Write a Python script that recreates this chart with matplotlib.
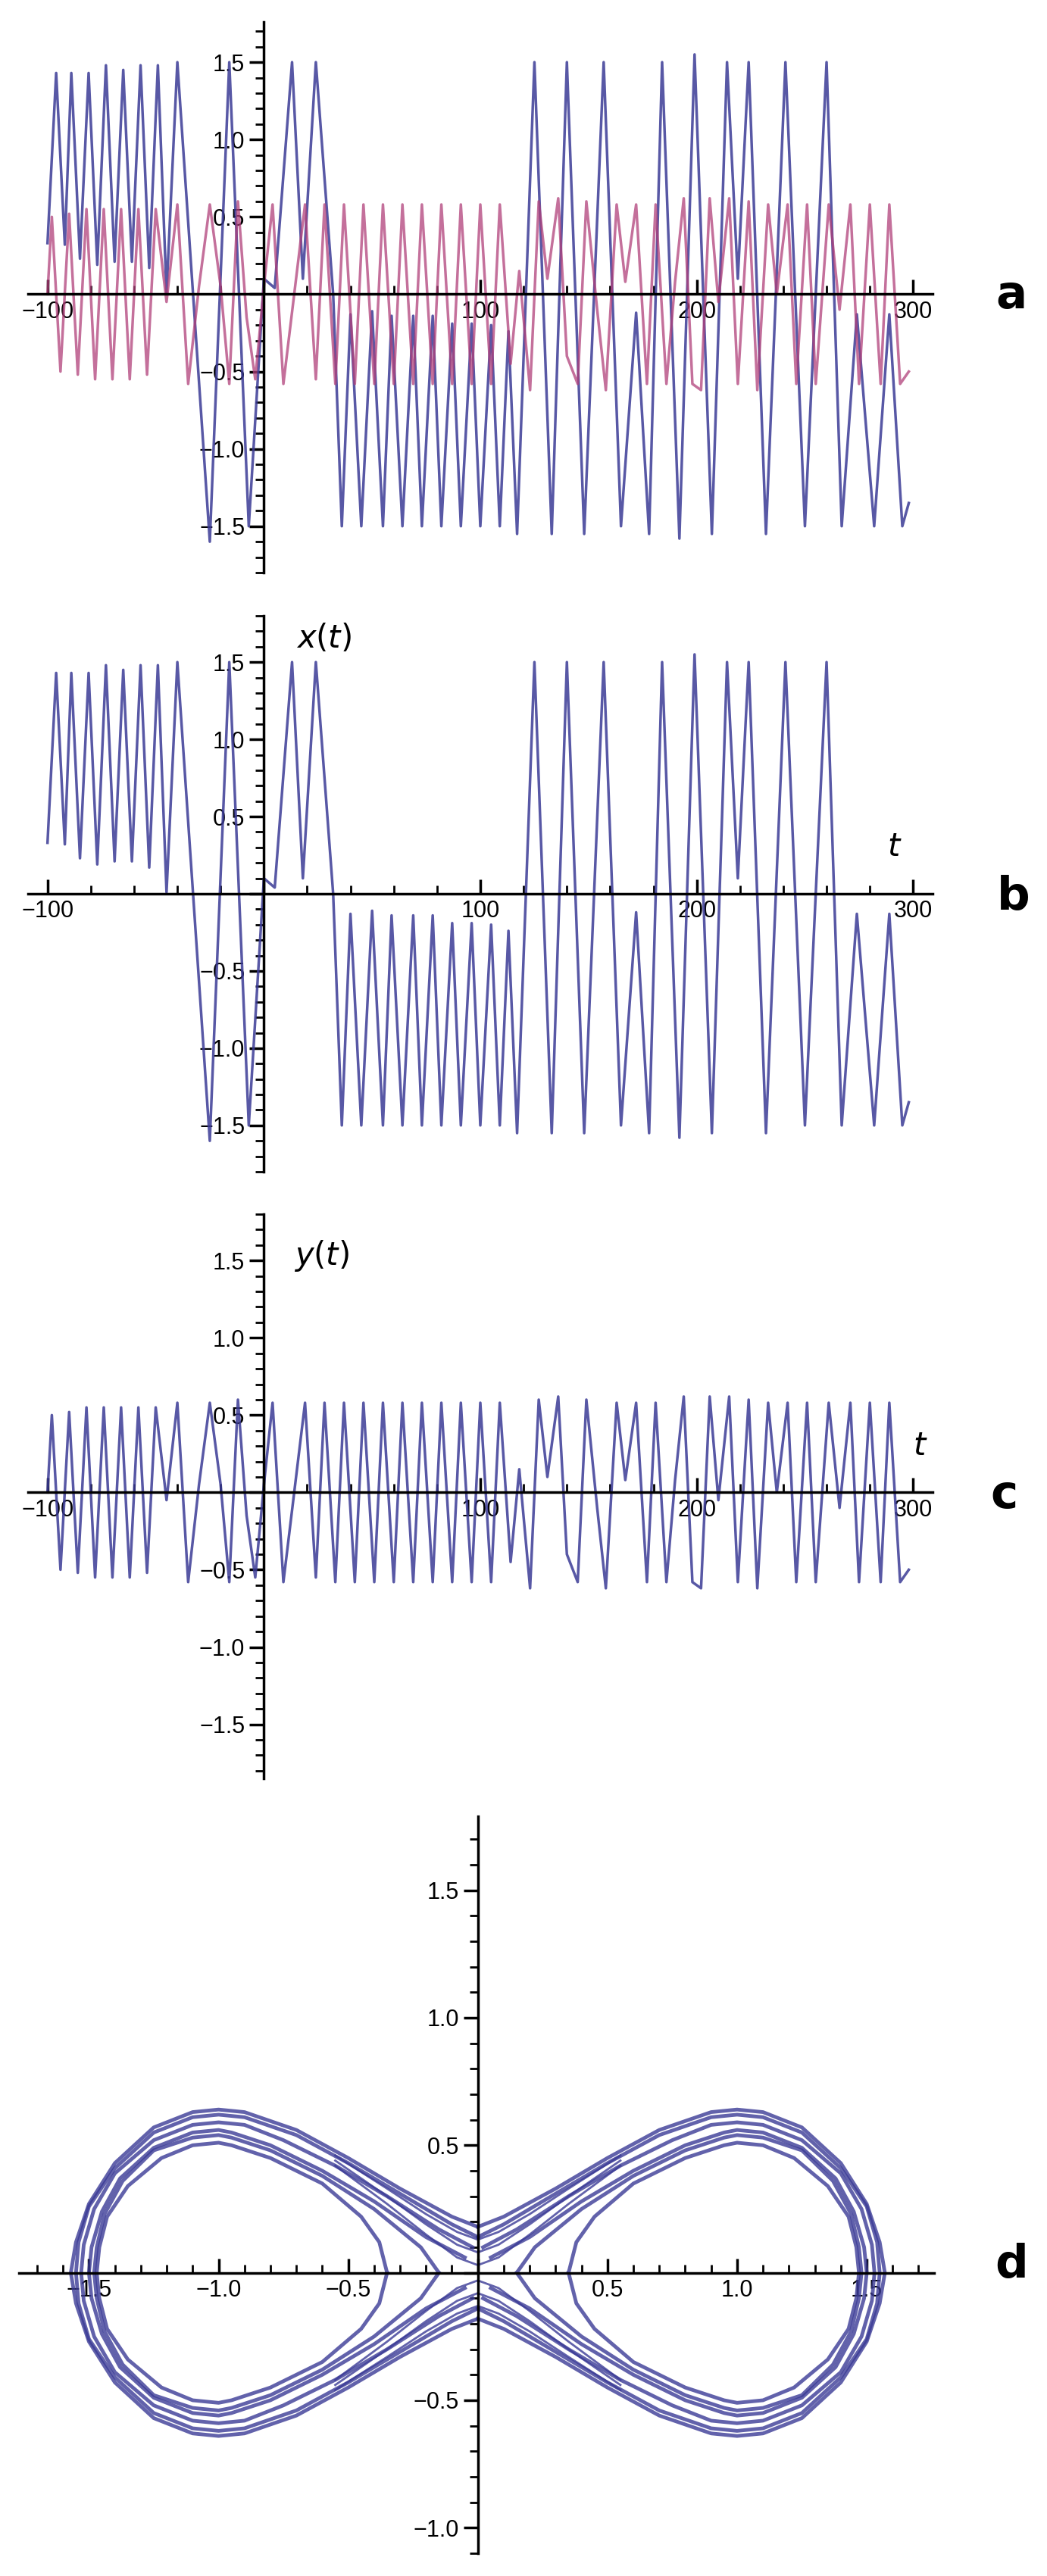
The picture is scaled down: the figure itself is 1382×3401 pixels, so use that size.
import matplotlib
matplotlib.use("Agg")
import matplotlib.pyplot as plt
import numpy as np
from matplotlib.ticker import MultipleLocator, FuncFormatter

# x(t) extrema (t, value)
x_t = [-100, -96, -92, -89, -85, -81, -77, -73, -69, -65, -61, -57, -53, -49, -45, -40,
       -25, -16, -7, 0, 5, 13, 18, 24, 32, 36, 40, 45, 50, 55, 59, 64, 69, 73, 78,
       82, 87, 91, 96, 100, 105, 109, 113, 117, 125, 133, 140, 148, 157, 165, 172, 178, 184,
       192, 199, 207, 214, 219, 224, 232, 241, 250, 260, 267, 274, 282, 289, 295, 298]
x_v = [0.33, 1.43, 0.32, 1.43, 0.23, 1.43, 0.19, 1.48, 0.21, 1.45, 0.21, 1.48, 0.17, 1.48,
       0.01, 1.50, -1.60, 1.50, -1.50, 0.10, 0.04, 1.50, 0.10, 1.50, 0.0, -1.50,
       -0.13, -1.50, -0.11, -1.50, -0.14, -1.50, -0.14, -1.50, -0.14, -1.50, -0.19,
       -1.50, -0.19, -1.50, -0.20, -1.50, -0.24, -1.55, 1.50, -1.55, 1.50, -1.55, 1.50, -1.50,
       -0.12, -1.55, 1.50, -1.58, 1.55, -1.55, 1.50, 0.10, 1.50, -1.55, 1.50, -1.50,
       1.50, -1.50, -0.13, -1.50, -0.13, -1.50, -1.35]

# y(t) extrema (t, value)
y_t = [-100, -98, -94, -90, -86, -82, -78, -74, -70, -66, -62, -58, -54, -50, -45, -40,
       -35, -30, -25, -20, -16, -12, -8, -4, 0, 4, 9, 14, 19, 24, 28, 33, 37, 42, 46, 51,
       55, 60, 64, 69, 73, 78, 82, 87, 91, 96, 100, 105, 109, 114, 118, 123, 127, 131,
       136, 140, 145, 149, 154, 158, 163, 167, 172, 177, 181, 186, 190, 194, 198, 202,
       206, 210, 215, 219, 224, 228, 233, 237, 242, 246, 251, 255, 261, 266, 271, 275,
       280, 285, 289, 294, 298]
y_v = [0.0, 0.50, -0.50, 0.52, -0.52, 0.55, -0.55, 0.55, -0.55, 0.55, -0.55, 0.55,
       -0.52, 0.55, -0.05, 0.58, -0.58, 0.05, 0.58, 0.05, -0.58, 0.60, -0.15, -0.55,
       0.05, 0.58, -0.58, 0.0, 0.58, -0.55, 0.58, -0.58, 0.58, -0.58, 0.58, -0.58, 0.58,
       -0.58, 0.58, -0.58, 0.58, -0.58, 0.58, -0.58, 0.58, -0.58, 0.58, -0.58, 0.58,
       -0.45, 0.15, -0.62, 0.60, 0.10, 0.62, -0.40, -0.58, 0.60, -0.10, -0.62, 0.58,
       0.08, 0.58, -0.58, 0.58, -0.58, 0.08, 0.62, -0.58, -0.62, 0.62, -0.05, 0.62,
       -0.58, 0.60, -0.62, 0.58, 0.0, 0.58, -0.58, 0.58, -0.58, 0.58, -0.10, 0.58,
       -0.58, 0.58, -0.58, 0.58, -0.58, -0.50]

# phase portrait d: upper halves of right-lobe orbits (x, y); lower half / left lobe are mirrored
ring_x = [
    [0.00, 0.10, 0.30, 0.50, 0.70, 0.90, 1.00, 1.10, 1.25, 1.40, 1.50, 1.55, 1.57],
    [0.00, 0.10, 0.30, 0.50, 0.70, 0.90, 1.00, 1.10, 1.25, 1.40, 1.50, 1.54, 1.55],
    [0.02, 0.15, 0.35, 0.55, 0.75, 0.90, 1.00, 1.10, 1.25, 1.40, 1.48, 1.52, 1.53],
    [0.05, 0.20, 0.40, 0.60, 0.80, 0.95, 1.00, 1.10, 1.25, 1.38, 1.45, 1.49, 1.50],
    [0.15, 0.22, 0.40, 0.60, 0.80, 0.95, 1.00, 1.10, 1.25, 1.37, 1.44, 1.47, 1.48],
    [0.35, 0.38, 0.45, 0.60, 0.80, 0.95, 1.00, 1.10, 1.22, 1.35, 1.43, 1.46, 1.47],
]
ring_y = [
    [0.18, 0.22, 0.33, 0.45, 0.56, 0.63, 0.64, 0.63, 0.57, 0.43, 0.27, 0.12, 0.00],
    [0.14, 0.19, 0.31, 0.43, 0.54, 0.61, 0.62, 0.61, 0.55, 0.41, 0.26, 0.12, 0.00],
    [0.10, 0.17, 0.30, 0.42, 0.52, 0.58, 0.59, 0.58, 0.52, 0.39, 0.25, 0.11, 0.00],
    [0.06, 0.14, 0.28, 0.40, 0.50, 0.55, 0.56, 0.55, 0.49, 0.37, 0.24, 0.10, 0.00],
    [0.00, 0.10, 0.25, 0.38, 0.48, 0.53, 0.54, 0.53, 0.48, 0.36, 0.23, 0.10, 0.00],
    [0.00, 0.12, 0.22, 0.35, 0.45, 0.50, 0.51, 0.50, 0.45, 0.34, 0.22, 0.10, 0.00],
]
# near-saddle passages through the origin
pass_x = [-0.55, -0.35, -0.20, -0.08, 0.00, 0.08, 0.20, 0.35, 0.55]
pass_y = [[0.42, 0.27, 0.15, 0.06, 0.03, 0.06, 0.15, 0.27, 0.42],
          [0.44, 0.30, 0.19, 0.11, 0.08, 0.11, 0.19, 0.30, 0.44],
          [0.46, 0.33, 0.23, 0.16, 0.13, 0.16, 0.23, 0.33, 0.46]]

W, H = 1382, 3401
fig = plt.figure(figsize=(W / 100, H / 100), dpi=100)
plt.rcParams['font.family'] = ['Liberation Sans Narrow', 'Liberation Sans', 'DejaVu Sans']

blue = '#3b3b96'
pink = '#b0407a'


def add_axes(l, r, top, bot):
    return fig.add_axes([l / W, 1 - bot / H, (r - l) / W, (bot - top) / H])


def style(ax, xmaj, xmin, fmt_x):
    for s in ['top', 'right']:
        ax.spines[s].set_visible(False)
    ax.spines['left'].set_position(('data', 0))
    ax.spines['bottom'].set_position(('data', 0))
    for s in ['left', 'bottom']:
        ax.spines[s].set_linewidth(2.5)
    ax.xaxis.set_major_locator(MultipleLocator(xmaj))
    ax.xaxis.set_minor_locator(MultipleLocator(xmin))
    ax.yaxis.set_major_locator(MultipleLocator(0.5))
    ax.yaxis.set_minor_locator(MultipleLocator(0.1))
    ax.xaxis.set_major_formatter(FuncFormatter(lambda v, p: '' if abs(v) < 1e-9 else fmt_x(v)))
    ax.yaxis.set_major_formatter(FuncFormatter(lambda v, p: '' if abs(v) < 1e-9 else f'{v:.1f}'.replace('-', '\u2212')))
    ax.tick_params(axis='both', which='major', direction='in', length=14, width=2.5,
                   labelsize=22, pad=6)
    ax.tick_params(axis='both', which='minor', direction='in', length=8, width=2)
    ax.tick_params(axis='y', direction='out', which='both')
    ax.tick_params(axis='y', which='major', direction='out', pad=4)
    ax.patch.set_alpha(0)


t_fmt = lambda v: f'{v:.0f}'.replace('-', '\u2212')

# panel a
ax = add_axes(37, 1231, 29, 756)
ax.plot(x_t, x_v, color=blue, lw=2.5, alpha=0.85)
ax.plot(y_t, y_v, color=pink, lw=2.5, alpha=0.75)
ax.set_xlim(-109, 309)
ax.set_ylim(-1.8, 1.76)
style(ax, 100, 20, t_fmt)
fig.text(1335 / W, 1 - 390 / H, 'a', fontsize=44, fontweight='bold', family='DejaVu Sans',
         ha='center', va='center')

# panel b
ax = add_axes(37, 1231, 813, 1547)
ax.plot(x_t, x_v, color=blue, lw=2.5, alpha=0.85)
ax.set_xlim(-109, 309)
ax.set_ylim(-1.8, 1.8)
style(ax, 100, 20, t_fmt)
ax.text(15, 1.55, r'$x(t)$', fontsize=30, ha='left', va='bottom')
ax.text(288, 0.2, r'$t$', fontsize=30, ha='left', va='bottom')
fig.text(1338 / W, 1 - 1185 / H, 'b', fontsize=44, fontweight='bold', family='DejaVu Sans',
         ha='center', va='center')

# panel c
ax = add_axes(37, 1231, 1603, 2348)
ax.plot(y_t, y_v, color=blue, lw=2.5, alpha=0.85)
ax.set_xlim(-109, 309)
ax.set_ylim(-1.85, 1.8)
style(ax, 100, 20, t_fmt)
ax.text(14, 1.42, r'$y(t)$', fontsize=30, ha='left', va='bottom')
ax.text(300, 0.2, r'$t$', fontsize=30, ha='left', va='bottom')
fig.text(1325 / W, 1 - 1975 / H, 'c', fontsize=44, fontweight='bold', family='DejaVu Sans',
         ha='center', va='center')

# panel d
ax = add_axes(25, 1233, 2398, 3371)
for rx, ry in zip(ring_x, ring_y):
    rx = np.array(rx)
    ry = np.array(ry)
    xs = np.concatenate([rx, rx[::-1]])
    ys = np.concatenate([ry, -ry[::-1]])
    ax.plot(xs, ys, color=blue, lw=3.5, alpha=0.8)
    ax.plot(-xs, ys, color=blue, lw=3.5, alpha=0.8)
for py in pass_y:
    py = np.array(py)
    ax.plot(pass_x, py, color=blue, lw=2, alpha=0.8)
    ax.plot(pass_x, -py, color=blue, lw=2, alpha=0.8)
ax.set_xlim(-1.77, 1.76)
ax.set_ylim(-1.1, 1.79)
style(ax, 0.5, 0.1, lambda v: f'{v:.1f}'.replace('-', '\u2212'))
fig.text(1335 / W, 1 - 2990 / H, 'd', fontsize=44, fontweight='bold', family='DejaVu Sans',
         ha='center', va='center')

fig.savefig('out.png', dpi=100, facecolor='white')
